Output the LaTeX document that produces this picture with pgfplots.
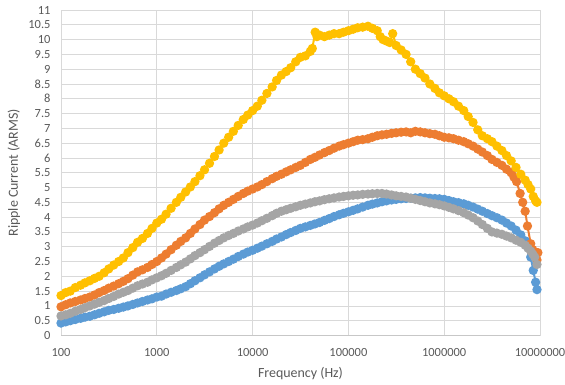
\documentclass[border=0pt]{standalone}
\usepackage{pgfplots}
\pgfplotsset{compat=1.18}
\usepackage{fontspec}
\setmainfont{Carlito}
\definecolor{sblue}{HTML}{5B9BD5}
\definecolor{sorange}{HTML}{ED7D31}
\definecolor{sgray}{HTML}{A5A5A5}
\definecolor{syellow}{HTML}{FFC000}
\definecolor{gridc}{HTML}{D9D9D9}
\definecolor{textc}{HTML}{595959}
\begin{document}
\begin{tikzpicture}
\begin{axis}[
  scale only axis, width=479bp, height=325.5bp,
  xmode=log, xmin=100, xmax=1e7, ymin=0, ymax=11,
  xtick={100,1000,10000,100000,1000000,10000000},
  xticklabels={100,1000,10000,100000,1000000,10000000},
  ytick={0,0.5,1,1.5,2,2.5,3,3.5,4,4.5,5,5.5,6,6.5,7,7.5,8,8.5,9,9.5,10,10.5,11},
  yticklabels={0,0.5,1,1.5,2,2.5,3,3.5,4,4.5,5,5.5,6,6.5,7,7.5,8,8.5,9,9.5,10,10.5,11},
  minor xtick={},
  grid=major, grid style={draw=gridc, line width=0.8bp},
  separate axis lines,
  axis x line*=bottom, axis y line*=left,
  x axis line style={draw=gridc!80!gray, -, line width=0.8bp},
  y axis line style={draw=none},
  major tick length=0pt, minor tick length=0pt,
  ticklabel style={font=\fontsize{12.5}{14}\selectfont, text=textc},
  xticklabel style={anchor=center, yshift=-17bp},
  yticklabel style={xshift=-7bp},
  label style={font=\fontsize{14}{16}\selectfont, text=textc},
  xlabel={Frequency (Hz)}, ylabel={Ripple Current (ARMS)},
  xlabel style={at={(axis description cs:0.5,0)}, anchor=center, yshift=-38.5bp},
  ylabel style={at={(axis description cs:0,0.5)}, anchor=center, rotate=0, yshift=47bp},
  clip=false,
  every axis plot/.append style={line width=2bp, mark=*, mark size=3.6bp},
]
\addplot[color=sblue, mark options={fill=sblue, draw=sblue}] coordinates {
(100,0.42)(112,0.46)(125,0.5)(141,0.54)(160,0.58)(178,0.62)(200,0.65)(224,0.70)(250,0.75)(282,0.80)(315,0.85)(355,0.88)(400,0.92)(447,0.96)(500,1.0)(562,1.05)(630,1.1)(708,1.15)(800,1.2)(891,1.24)
(1000,1.3)(1120,1.33)(1250,1.4)(1410,1.46)(1600,1.52)(1780,1.58)(2000,1.65)(2240,1.75)(2500,1.85)(2820,1.95)(3150,2.05)(3550,2.15)(4000,2.25)(4470,2.34)(5000,2.42)(5620,2.5)(6300,2.58)(7080,2.67)(8000,2.75)(8910,2.82)
(10000,2.88)(11200,2.95)(12500,3.02)(14100,3.1)(16000,3.18)(17800,3.26)(20000,3.33)(22400,3.41)(25000,3.48)(28200,3.55)(31500,3.62)(35500,3.67)(40000,3.72)(44700,3.77)(50000,3.82)(56200,3.89)(63000,3.95)(70800,4.02)(80000,4.08)(89100,4.13)
(100000,4.18)(112000,4.23)(125000,4.28)(141000,4.34)(160000,4.4)(178000,4.44)(200000,4.48)(224000,4.52)(250000,4.55)(282000,4.58)(315000,4.6)(355000,4.62)(400000,4.63)(447000,4.64)(500000,4.65)(562000,4.66)(630000,4.65)(708000,4.64)(800000,4.63)(891000,4.62)
(1000000,4.6)(1120000,4.56)(1250000,4.52)(1410000,4.49)(1600000,4.45)(1780000,4.4)(2000000,4.34)(2240000,4.27)(2500000,4.2)(2820000,4.12)(3150000,4.05)(3550000,3.98)(4000000,3.9)(4470000,3.8)(5000000,3.7)(5620000,3.56)(6300000,3.4)(7000000,3.2)
(7500000,3.0)(8000000,2.65)(8500000,2.2)(9000000,1.8)(9300000,1.55)
};
\addplot[color=sorange, mark options={fill=sorange, draw=sorange}] coordinates {
(100,0.97)(112,1.04)(125,1.1)(141,1.15)(160,1.2)(178,1.25)(200,1.3)(224,1.37)(250,1.45)(282,1.52)(315,1.6)(355,1.67)(400,1.75)(447,1.83)(500,1.92)(562,2.04)(630,2.15)(708,2.22)(800,2.3)(891,2.4)
(1000,2.5)(1120,2.62)(1250,2.75)(1410,2.9)(1600,3.05)(1780,3.18)(2000,3.3)(2240,3.45)(2500,3.6)(2820,3.75)(3150,3.9)(3550,4.02)(4000,4.15)(4470,4.28)(5000,4.4)(5620,4.5)(6300,4.6)(7080,4.7)(8000,4.8)(8910,4.88)
(10000,4.95)(11200,5.02)(12500,5.1)(14100,5.2)(16000,5.3)(17800,5.38)(20000,5.45)(22400,5.53)(25000,5.6)(28200,5.68)(31500,5.75)(35500,5.85)(40000,5.95)(44700,6.02)(50000,6.1)(56200,6.18)(63000,6.25)(70800,6.33)(80000,6.4)(89100,6.45)
(100000,6.5)(112000,6.55)(125000,6.6)(141000,6.62)(160000,6.65)(178000,6.7)(200000,6.75)(224000,6.78)(250000,6.8)(282000,6.83)(315000,6.85)(355000,6.87)(400000,6.88)(447000,6.85)(500000,6.9)(562000,6.88)(630000,6.85)(708000,6.82)(800000,6.8)(891000,6.75)
(1000000,6.7)(1120000,6.68)(1250000,6.65)(1410000,6.6)(1600000,6.55)(1780000,6.48)(2000000,6.4)(2240000,6.3)(2500000,6.2)(2820000,6.08)(3150000,5.95)(3550000,5.85)(4000000,5.75)(4470000,5.62)(5000000,5.5)(5350000,5.35)(5700000,5.2)(6200000,4.8)(6600000,4.5)
(7000000,4.2)(7400000,3.7)(8000000,3.1)(8400000,2.9)(8800000,2.7)(9300000,2.55)(9500000,2.8)
};
\addplot[color=sgray, mark options={fill=sgray, draw=sgray}] coordinates {
(100,0.66)(112,0.7)(125,0.75)(141,0.82)(160,0.88)(178,0.94)(200,1.0)(224,1.06)(250,1.12)(282,1.18)(315,1.25)(355,1.32)(400,1.4)(447,1.46)(500,1.52)(562,1.6)(630,1.68)(708,1.74)(800,1.8)(891,1.88)
(1000,1.95)(1120,2.02)(1250,2.1)(1410,2.2)(1600,2.3)(1780,2.39)(2000,2.48)(2240,2.59)(2500,2.7)(2820,2.8)(3150,2.9)(3550,3.01)(4000,3.12)(4470,3.21)(5000,3.3)(5620,3.38)(6300,3.45)(7080,3.53)(8000,3.6)(8910,3.67)
(10000,3.73)(11200,3.8)(12500,3.88)(14100,3.96)(16000,4.05)(17800,4.13)(20000,4.2)(22400,4.25)(25000,4.3)(28200,4.35)(31500,4.4)(35500,4.44)(40000,4.48)(44700,4.52)(50000,4.55)(56200,4.59)(63000,4.62)(70800,4.65)(80000,4.68)(89100,4.7)
(100000,4.72)(112000,4.74)(125000,4.75)(141000,4.77)(160000,4.78)(178000,4.79)(200000,4.8)(224000,4.8)(250000,4.78)(282000,4.75)(315000,4.72)(355000,4.7)(400000,4.68)(447000,4.64)(500000,4.6)(562000,4.56)(630000,4.52)(708000,4.48)(800000,4.45)(891000,4.42)
(1000000,4.38)(1120000,4.33)(1250000,4.28)(1410000,4.22)(1600000,4.15)(1780000,4.07)(2000000,3.98)(2240000,3.87)(2500000,3.75)(2820000,3.62)(3150000,3.5)(3550000,3.46)(4000000,3.42)(4470000,3.36)(5000000,3.3)(5620000,3.22)(6300000,3.15)(7000000,3.05)
(7500000,2.95)(8000000,2.85)(8400000,2.75)(8800000,2.65)(9300000,2.4)
};
\addplot[color=syellow, mark options={fill=syellow, draw=syellow}] coordinates {
(100,1.35)(112,1.45)(125,1.5)(141,1.62)(160,1.7)(178,1.78)(200,1.85)(224,1.93)(250,2.0)(282,2.12)(315,2.25)(355,2.38)(400,2.5)(447,2.62)(500,2.8)(562,2.97)(630,3.15)(708,3.28)(800,3.45)(891,3.62)
(1000,3.8)(1120,3.93)(1250,4.1)(1410,4.3)(1600,4.5)(1780,4.67)(2000,4.85)(2240,5.02)(2500,5.2)(2820,5.4)(3150,5.6)(3550,5.82)(4000,6.05)(4470,6.27)(5000,6.5)(5620,6.7)(6300,6.9)(7080,7.1)(8000,7.3)(8910,7.45)
(10000,7.6)(11200,7.75)(12500,7.95)(14100,8.18)(16000,8.4)(17800,8.62)(20000,8.8)(22400,8.92)(25000,9.05)(28200,9.25)(31500,9.4)(35500,9.45)(40000,9.6)(42000,9.7)(45000,10.25)(47000,10.1)(50000,10.15)(56200,10.1)(63000,10.15)(70800,10.2)(80000,10.2)(89100,10.25)
(100000,10.3)(112000,10.35)(125000,10.4)(141000,10.42)(160000,10.45)(178000,10.38)(200000,10.3)(215000,10.1)(230000,10.0)(250000,9.95)(270000,9.9)(290000,10.2)(315000,9.8)(355000,9.65)(400000,9.5)(447000,9.25)(500000,9.0)(562000,8.85)(630000,8.7)(708000,8.5)(800000,8.35)(891000,8.2)
(1000000,8.1)(1120000,8.0)(1250000,7.9)(1410000,7.75)(1600000,7.6)(1780000,7.4)(2000000,7.2)(2240000,6.95)(2500000,6.75)(2820000,6.65)(3150000,6.55)(3550000,6.4)(4000000,6.25)(4470000,6.08)(5000000,5.9)(5620000,5.68)(6300000,5.45)(7000000,5.25)
(7500000,5.1)(8000000,4.95)(8500000,4.7)(9000000,4.55)(9300000,4.5)
};
\coordinate (ll) at (rel axis cs:0,0);
\coordinate (ur) at (rel axis cs:1,1);
\end{axis}
\pgfresetboundingbox
\useasboundingbox ([shift={(-61bp,-49.5bp)}]ll) rectangle ([shift={(25bp,10bp)}]ur);
\end{tikzpicture}
\end{document}
